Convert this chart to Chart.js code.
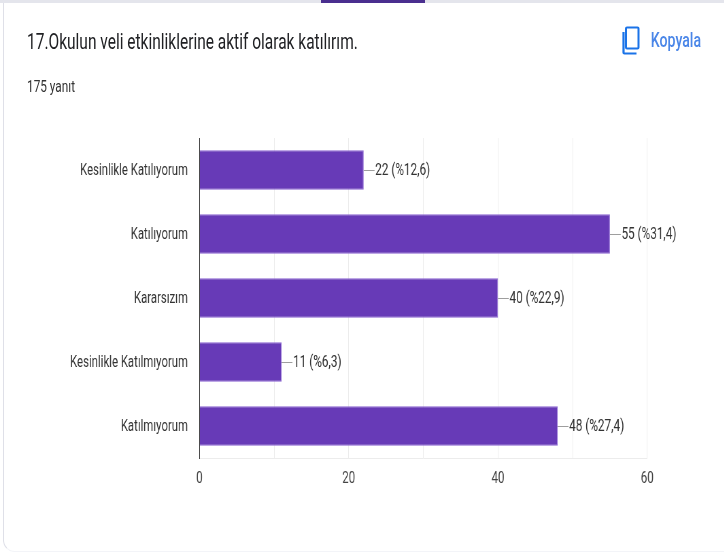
<!DOCTYPE html>
<html><head><meta charset="utf-8">
<script src="https://cdn.jsdelivr.net/npm/chart.js@4"></script>
<style>
html,body{margin:0;padding:0;background:#fff;overflow:hidden;width:724px;height:552px}
#strip{position:absolute;left:0;top:0;width:724px;height:3px;background:#e4e5ec}
#tab{position:absolute;left:321px;top:0;width:104px;height:3px;background:#4a2f8f}
#card{position:absolute;left:3px;top:3px;width:740px;height:549px;border-left:1.5px solid #dfe0e8;border-bottom:1px solid #f3f4f8;border-bottom-left-radius:12px;box-sizing:border-box}
#wrap{position:absolute;left:0;top:0;width:1065px;height:552px;transform:scaleX(.68);transform-origin:0 0;font-family:Roboto,sans-serif}
.t{position:absolute;white-space:nowrap}
canvas{position:absolute;left:0;top:0}
#icon{position:absolute;left:622px;top:26px}
</style></head><body>
<div id="strip"></div><div id="tab"></div><div id="card"></div>
<div id="wrap">
<canvas id="c" width="1065" height="552"></canvas>
<div class="t" style="left:39.7px;top:28px;font-size:22.8px;color:#202124">17.Okulun veli etkinliklerine aktif olarak katılırım.</div>
<div class="t" style="left:39.7px;top:76px;font-size:17.4px;color:#333">175 yanıt</div>
<div class="t" style="left:957px;top:28px;font-size:20.8px;font-weight:500;color:#4a86e8">Kopyala</div>
</div>
<svg id="icon" width="18" height="30" viewBox="0 0 18 30"><path d="M5 1.5h10.5a1 1 0 0 1 1 1v19a1 1 0 0 1-1 1H5a1 1 0 0 1-1-1v-19a1 1 0 0 1 1-1z" fill="none" stroke="#1a73e8" stroke-width="2"/><path d="M1.5 6v20.5a1 1 0 0 0 1 1h12" fill="none" stroke="#1a73e8" stroke-width="2.2"/></svg>
<script>
const categories=["Kesinlikle Katılıyorum","Katılıyorum","Kararsızım","Kesinlikle Katılmıyorum","Katılmıyorum"];
const counts=[22,55,40,11,48];
const percents=["12,6","31,4","22,9","6,3","27,4"];
const xTicks=[0,10,20,30,40,50,60];
const S=.68;
const leaders={id:'leaders',afterDatasetsDraw(ch){
 const c=ch.ctx,x=ch.scales.x,y=ch.scales.y;
 c.save();c.font='17.3px Roboto';c.textBaseline='middle';c.textAlign='left';
 counts.forEach((v,i)=>{
  const px=x.getPixelForValue(v),py=y.getPixelForValue(i);
  c.strokeStyle='#9e9e9e';c.lineWidth=1;c.beginPath();c.moveTo(px,py+.5);c.lineTo(px+16,py+.5);c.stroke();
  c.fillStyle='#333';c.fillText(v+' (%'+percents[i]+')',px+17,py+1);
 });
 c.restore();
}};
new Chart(document.getElementById('c'),{type:'bar',plugins:[leaders],
data:{labels:categories,datasets:[{data:counts,backgroundColor:'#673ab7',borderColor:'#8a63d2',borderWidth:1,barPercentage:.62,categoryPercentage:1}]},
options:{indexAxis:'y',responsive:false,animation:false,
 layout:{padding:{left:0,right:(724-647)/S,top:138,bottom:0}},
 plugins:{legend:{display:false},tooltip:{enabled:false}},
 scales:{
  x:{min:0,max:60,afterBuildTicks(a){a.ticks=xTicks.map(v=>({value:v}))},
   afterFit(a){a.height=552-458},
   grid:{color:'#ececec',drawTicks:false,lineWidth:1},border:{display:true,color:'#ececec',width:1},
   ticks:{autoSkip:false,padding:11,maxRotation:0,color:'#444',font:{family:'Roboto',size:17},callback:v=>v%20===0?v:''}},
  y:{afterFit(a){a.width=199.5/S},grid:{display:false},border:{color:'#333',width:1},
   ticks:{padding:9,labelOffset:1,color:'#333',font:{family:'Roboto',size:16.7}}}
 }}});
</script>
</body></html>
